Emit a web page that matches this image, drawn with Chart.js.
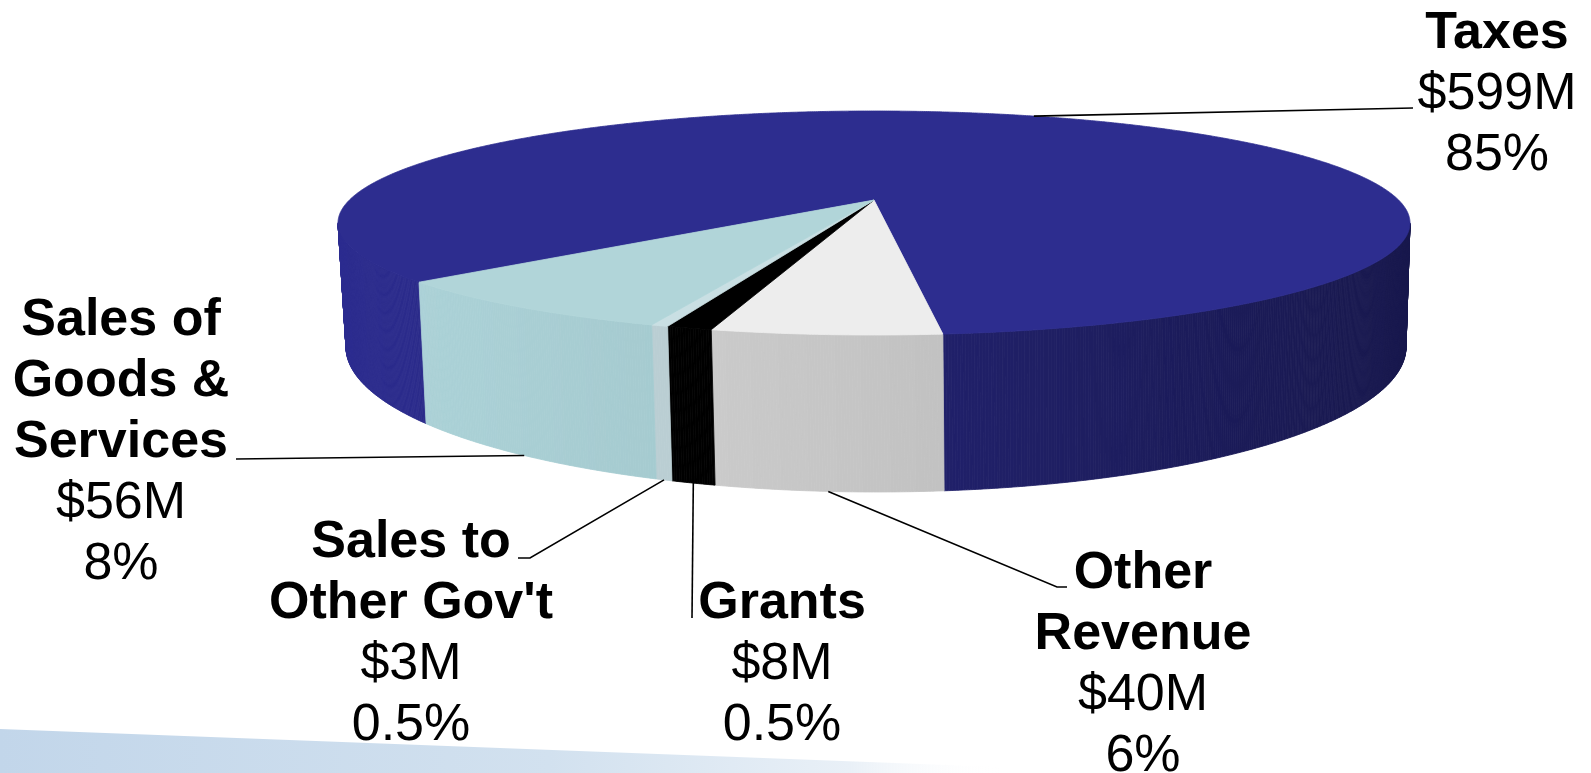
<!DOCTYPE html>
<html>
<head>
<meta charset="utf-8">
<title>Revenue by Source</title>
<script src="https://cdn.jsdelivr.net/npm/chart.js@4.4.1/dist/chart.umd.min.js"></script>
<style>
  html, body { margin: 0; padding: 0; background: #ffffff; overflow: hidden; }
  #wrap { position: relative; width: 1591px; height: 773px; }
</style>
</head>
<body>
<div id="wrap"><canvas id="revenuePie" width="1591" height="773"></canvas></div>
<script>
// Revenue sources, listed clockwise starting with Taxes
const categories = ['Taxes', 'Other Revenue', 'Grants', "Sales to Other Gov't", 'Sales of Goods & Services'];
const amountsM = [599, 40, 8, 3, 56];
const shareLabels = ['85%', '6%', '0.5%', '0.5%', '8%'];
const nameLines = [['Taxes'], ['Other', 'Revenue'], ['Grants'], ['Sales to', "Other Gov't"], ['Sales of', 'Goods &', 'Services']];

// Slice styling
const topColors = ['#2D2D8F', '#EDEDED', '#000000', '#C9DFE3', '#B1D5D9'];
const wallColors = [[34, 34, 110], [196, 196, 196], [0, 0, 0], [186, 206, 211], [160, 196, 201]];
const wallShade = [0.3, 0.1, 0, 0, 0.08];

// Label placement: centre x, first baseline, leader bends, and where the leader meets the pie
const labelLayout = [
  { x: 1497, y: 48,  anchor: 'top',    bends: [[1413, 108]] },
  { x: 1143, y: 588, anchor: 'bottom', bends: [[1057, 587], [1067, 587]] },
  { x: 782,  y: 618, anchor: 'bottom', bends: [[692, 618]] },
  { x: 411,  y: 557, anchor: 'bottom', bends: [[530, 558], [518, 558]] },
  { x: 121,  y: 335, anchor: 'bottom', bends: [[236, 459]] }
];
const LINE_H = 61;
const FONT = '"Liberation Sans", Arial, Helvetica, sans-serif';

// 3D view of the pie, in units of a 223px pie radius
const VIEW = {
  baseRadius: 223,
  apexShift: 0.205,              // how far the pie centre sits above the ellipse centre (fraction of ry)
  top: { rx: 536, ry: 112 },
  bottom: { dx: 2, dy: 124, rx: 530, ry: 145 }
};

// Perspective mapping of a rim angle to the unit ellipse (disc-preserving projective shift)
function rimPoint(theta, t) {
  const zr = Math.cos(theta), zi = Math.sin(theta);
  const nr = zr, ni = zi - t;
  const dr = 1 - t * zi, di = t * zr;
  const den = dr * dr + di * di;
  return { u: (nr * dr + ni * di) / den, v: (ni * dr - nr * di) / den };
}

function geometry(arc) {
  const k = arc.outerRadius / VIEW.baseRadius;
  const s = VIEW.apexShift;
  const t = (1 - Math.sqrt(1 - s * s)) / s;
  const cx = arc.x, cy = arc.y;
  return {
    t,
    apex: { x: cx, y: cy - s * VIEW.top.ry * k },
    top: (p) => ({ x: cx + VIEW.top.rx * k * p.u, y: cy + VIEW.top.ry * k * p.v }),
    bot: (p) => ({ x: cx + VIEW.bottom.dx * k + VIEW.bottom.rx * k * p.u, y: cy + VIEW.bottom.dy * k + VIEW.bottom.ry * k * p.v })
  };
}

function rgb(c, f) {
  const cl = (x) => Math.max(0, Math.min(255, Math.round(x * f)));
  return `rgb(${cl(c[0])},${cl(c[1])},${cl(c[2])})`;
}

const backdrop = {
  id: 'backdrop',
  beforeDraw(chart) {
    const ctx = chart.ctx;
    ctx.save();
    const grad = ctx.createLinearGradient(0, 0, 1000, 0);
    grad.addColorStop(0, '#C2D6EA');
    grad.addColorStop(0.55, '#D2E1EF');
    grad.addColorStop(0.85, '#E9F0F7');
    grad.addColorStop(1, 'rgba(255,255,255,0)');
    ctx.beginPath();
    ctx.moveTo(0, 729);
    ctx.lineTo(1000, 767);
    ctx.lineTo(1000, 773);
    ctx.lineTo(0, 773);
    ctx.closePath();
    ctx.fillStyle = grad;
    ctx.fill();
    ctx.restore();
  }
};

const pie3d = {
  id: 'pie3d',
  beforeDatasetsDraw(chart) {
    const meta = chart.getDatasetMeta(0);
    const arcs = meta.data;
    if (!arcs.length) return false;
    const ctx = chart.ctx;
    const g = geometry(arcs[0]);
    const step = Math.PI / 720;

    ctx.save();
    // side walls (front half only)
    arcs.forEach((arc, i) => {
      const a0 = arc.startAngle, a1 = arc.endAngle;
      const n = Math.max(1, Math.ceil((a1 - a0) / step));
      for (let j = 0; j < n; j++) {
        const pa = rimPoint(a0 + (a1 - a0) * j / n, g.t);
        const pb = rimPoint(a0 + (a1 - a0) * (j + 1) / n, g.t);
        if (pa.v <= 0 && pb.v <= 0) continue;
        const um = (pa.u + pb.u) / 2;
        const col = rgb(wallColors[i], 1 - wallShade[i] * um);
        const ta = g.top(pa), tb = g.top(pb), ba = g.bot(pa), bb = g.bot(pb);
        ctx.beginPath();
        ctx.moveTo(ta.x, ta.y);
        ctx.lineTo(tb.x, tb.y);
        ctx.lineTo(bb.x, bb.y);
        ctx.lineTo(ba.x, ba.y);
        ctx.closePath();
        ctx.fillStyle = col;
        ctx.strokeStyle = col;
        ctx.lineWidth = 0.8;
        ctx.fill();
        ctx.stroke();
      }
    });

    // top faces
    ctx.lineJoin = 'round';
    arcs.forEach((arc, i) => {
      const a0 = arc.startAngle, a1 = arc.endAngle;
      const n = Math.max(2, Math.ceil((a1 - a0) / step));
      ctx.beginPath();
      ctx.moveTo(g.apex.x, g.apex.y);
      for (let j = 0; j <= n; j++) {
        const p = g.top(rimPoint(a0 + (a1 - a0) * j / n, g.t));
        ctx.lineTo(p.x, p.y);
      }
      ctx.closePath();
      ctx.fillStyle = topColors[i];
      ctx.strokeStyle = topColors[i];
      ctx.lineWidth = 0.8;
      ctx.fill();
      ctx.stroke();
    });
    ctx.restore();
    return false;
  },
  afterDraw(chart) {
    const meta = chart.getDatasetMeta(0);
    const arcs = meta.data;
    if (!arcs.length) return;
    const ctx = chart.ctx;
    const g = geometry(arcs[0]);
    ctx.save();

    // leader lines
    ctx.strokeStyle = '#000000';
    ctx.lineWidth = 1.6;
    arcs.forEach((arc, i) => {
      const L = labelLayout[i];
      const mid = (arc.startAngle + arc.endAngle) / 2;
      const p = rimPoint(mid, g.t);
      const start = L.anchor === 'top' ? g.top(p) : g.bot(p);
      ctx.beginPath();
      ctx.moveTo(start.x, start.y);
      L.bends.forEach(b => ctx.lineTo(b[0], b[1]));
      ctx.stroke();
    });

    // labels
    ctx.fillStyle = '#000000';
    ctx.textAlign = 'center';
    ctx.textBaseline = 'alphabetic';
    categories.forEach((name, i) => {
      const L = labelLayout[i];
      let y = L.y;
      ctx.font = `bold 52px ${FONT}`;
      nameLines[i].forEach(line => { ctx.fillText(line, L.x, y); y += LINE_H; });
      ctx.font = `52px ${FONT}`;
      ctx.fillText('$' + amountsM[i] + 'M', L.x, y); y += LINE_H;
      ctx.fillText(shareLabels[i], L.x, y);
    });
    ctx.restore();
  }
};

new Chart(document.getElementById('revenuePie'), {
  type: 'pie',
  data: {
    labels: categories,
    datasets: [{
      data: amountsM,
      backgroundColor: topColors,
      borderWidth: 0
    }]
  },
  options: {
    responsive: false,
    animation: false,
    events: [],
    rotation: 228.56,
    radius: 223,
    layout: { padding: { left: 157, right: 0, top: 0, bottom: 327 } },
    plugins: { legend: { display: false }, tooltip: { enabled: false } }
  },
  plugins: [backdrop, pie3d]
});
</script>
</body>
</html>
